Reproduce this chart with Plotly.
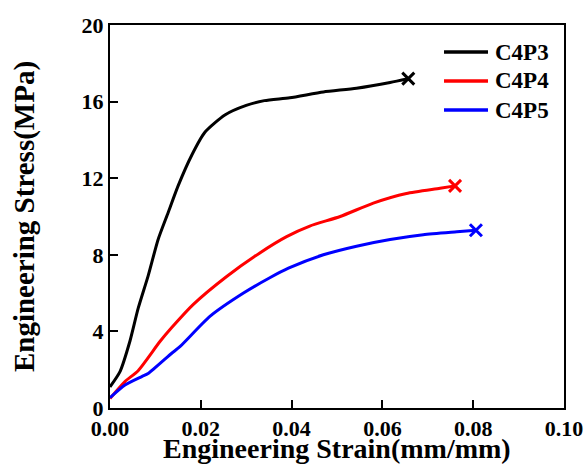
import plotly.graph_objects as go

# C4P3
c3_strain = [0.0, 0.0022, 0.0044, 0.0062, 0.0084, 0.0106, 0.0128, 0.0150, 0.0180, 0.0209, 0.0253, 0.0300, 0.0340, 0.0396, 0.0470, 0.0543, 0.0617, 0.0657]
c3_stress = [1.1, 1.9, 3.5, 5.2, 6.9, 8.8, 10.2, 11.6, 13.2, 14.4, 15.3, 15.8, 16.05, 16.2, 16.5, 16.7, 17.0, 17.2]
# C4P4
c4_strain = [0.0, 0.0033, 0.0062, 0.0110, 0.0136, 0.0183, 0.0257, 0.0330, 0.0389, 0.0440, 0.0507, 0.0580, 0.0653, 0.0727, 0.0760]
c4_stress = [0.5, 1.38, 1.95, 3.47, 4.2, 5.4, 6.87, 8.1, 8.95, 9.5, 10.0, 10.7, 11.2, 11.47, 11.6]
# C4P5
c5_strain = [0.0, 0.0033, 0.0070, 0.0084, 0.0136, 0.0154, 0.0220, 0.0294, 0.0352, 0.0393, 0.0470, 0.0543, 0.0617, 0.0690, 0.0764, 0.0806]
c5_stress = [0.54, 1.2, 1.64, 1.8, 2.86, 3.2, 4.78, 6.0, 6.8, 7.3, 8.0, 8.45, 8.8, 9.05, 9.2, 9.28]

names = ["C4P3", "C4P4", "C4P5"]
colors = ["#000000", "#ff0000", "#0000ff"]
series = [(c3_strain, c3_stress), (c4_strain, c4_stress), (c5_strain, c5_stress)]

x_ticks = [0, 0.02, 0.04, 0.06, 0.08, 0.10]
x_ticklabels = ["0.00", "0.02", "0.04", "0.06", "0.08", "0.10"]
y_ticks = [0, 4, 8, 12, 16, 20]
y_ticklabels = ["0", "4", "8", "12", "16", "20"]
x_title = "Engineering Strain(mm/mm)"
y_title = "Engineering Stress(MPa)"

FONT = "Liberation Serif"

fig = go.Figure()
for (xs, ys), name, col in zip(series, names, colors):
    fig.add_trace(go.Scatter(x=xs, y=ys, mode="lines", name=name, showlegend=False,
                             line=dict(color=col, width=3, shape="spline", smoothing=0.6)))
    fig.add_trace(go.Scatter(x=[xs[-1]], y=[ys[-1]], mode="markers", showlegend=False,
                             marker=dict(symbol="x-thin-open", size=12, color=col,
                                         line=dict(color=col, width=3))))

# custom legend (lines + text) in paper coordinates
leg_y = [0.9295, 0.8538, 0.778]
for name, col, yy in zip(names, colors, leg_y):
    fig.add_shape(type="line", xref="paper", yref="paper", x0=0.7357, x1=0.8326,
                  y0=yy, y1=yy, line=dict(color=col, width=3.5))
    fig.add_annotation(xref="paper", yref="paper", x=0.8436, y=yy, xanchor="left",
                       yanchor="middle", showarrow=False, text="<b>%s</b>" % name,
                       font=dict(family=FONT, size=23, color="black"))

# x-axis title as annotation placed just under the tick labels
fig.add_annotation(xref="paper", yref="paper", x=0.5, y=0, xanchor="center",
                   yanchor="top", yshift=-23, showarrow=False,
                   text="<b>%s</b>" % x_title,
                   font=dict(family=FONT, size=28, color="black"))

axis_common = dict(showline=True, linecolor="black", linewidth=2, mirror=True,
                   ticks="inside", ticklen=8, tickwidth=2, tickcolor="black",
                   showgrid=False, zeroline=False, automargin=False,
                   tickfont=dict(family=FONT, size=22, color="black"))

fig.update_layout(
    width=585, height=464,
    margin=dict(l=110, r=21, t=25, b=56),
    paper_bgcolor="white", plot_bgcolor="white",
    font=dict(family=FONT, color="black"),
    showlegend=False,
    xaxis=dict(range=[0, 0.10], tickvals=x_ticks,
               ticktext=["<b>%s</b>" % t for t in x_ticklabels],
               **axis_common),
    yaxis=dict(range=[0, 20], tickvals=y_ticks,
               ticktext=["<b>%s</b>" % t for t in y_ticklabels],
               title=dict(text="<b>%s</b>" % y_title, standoff=38,
                          font=dict(family=FONT, size=29, color="black")),
               **axis_common),
)

fig.write_html("out.html")
